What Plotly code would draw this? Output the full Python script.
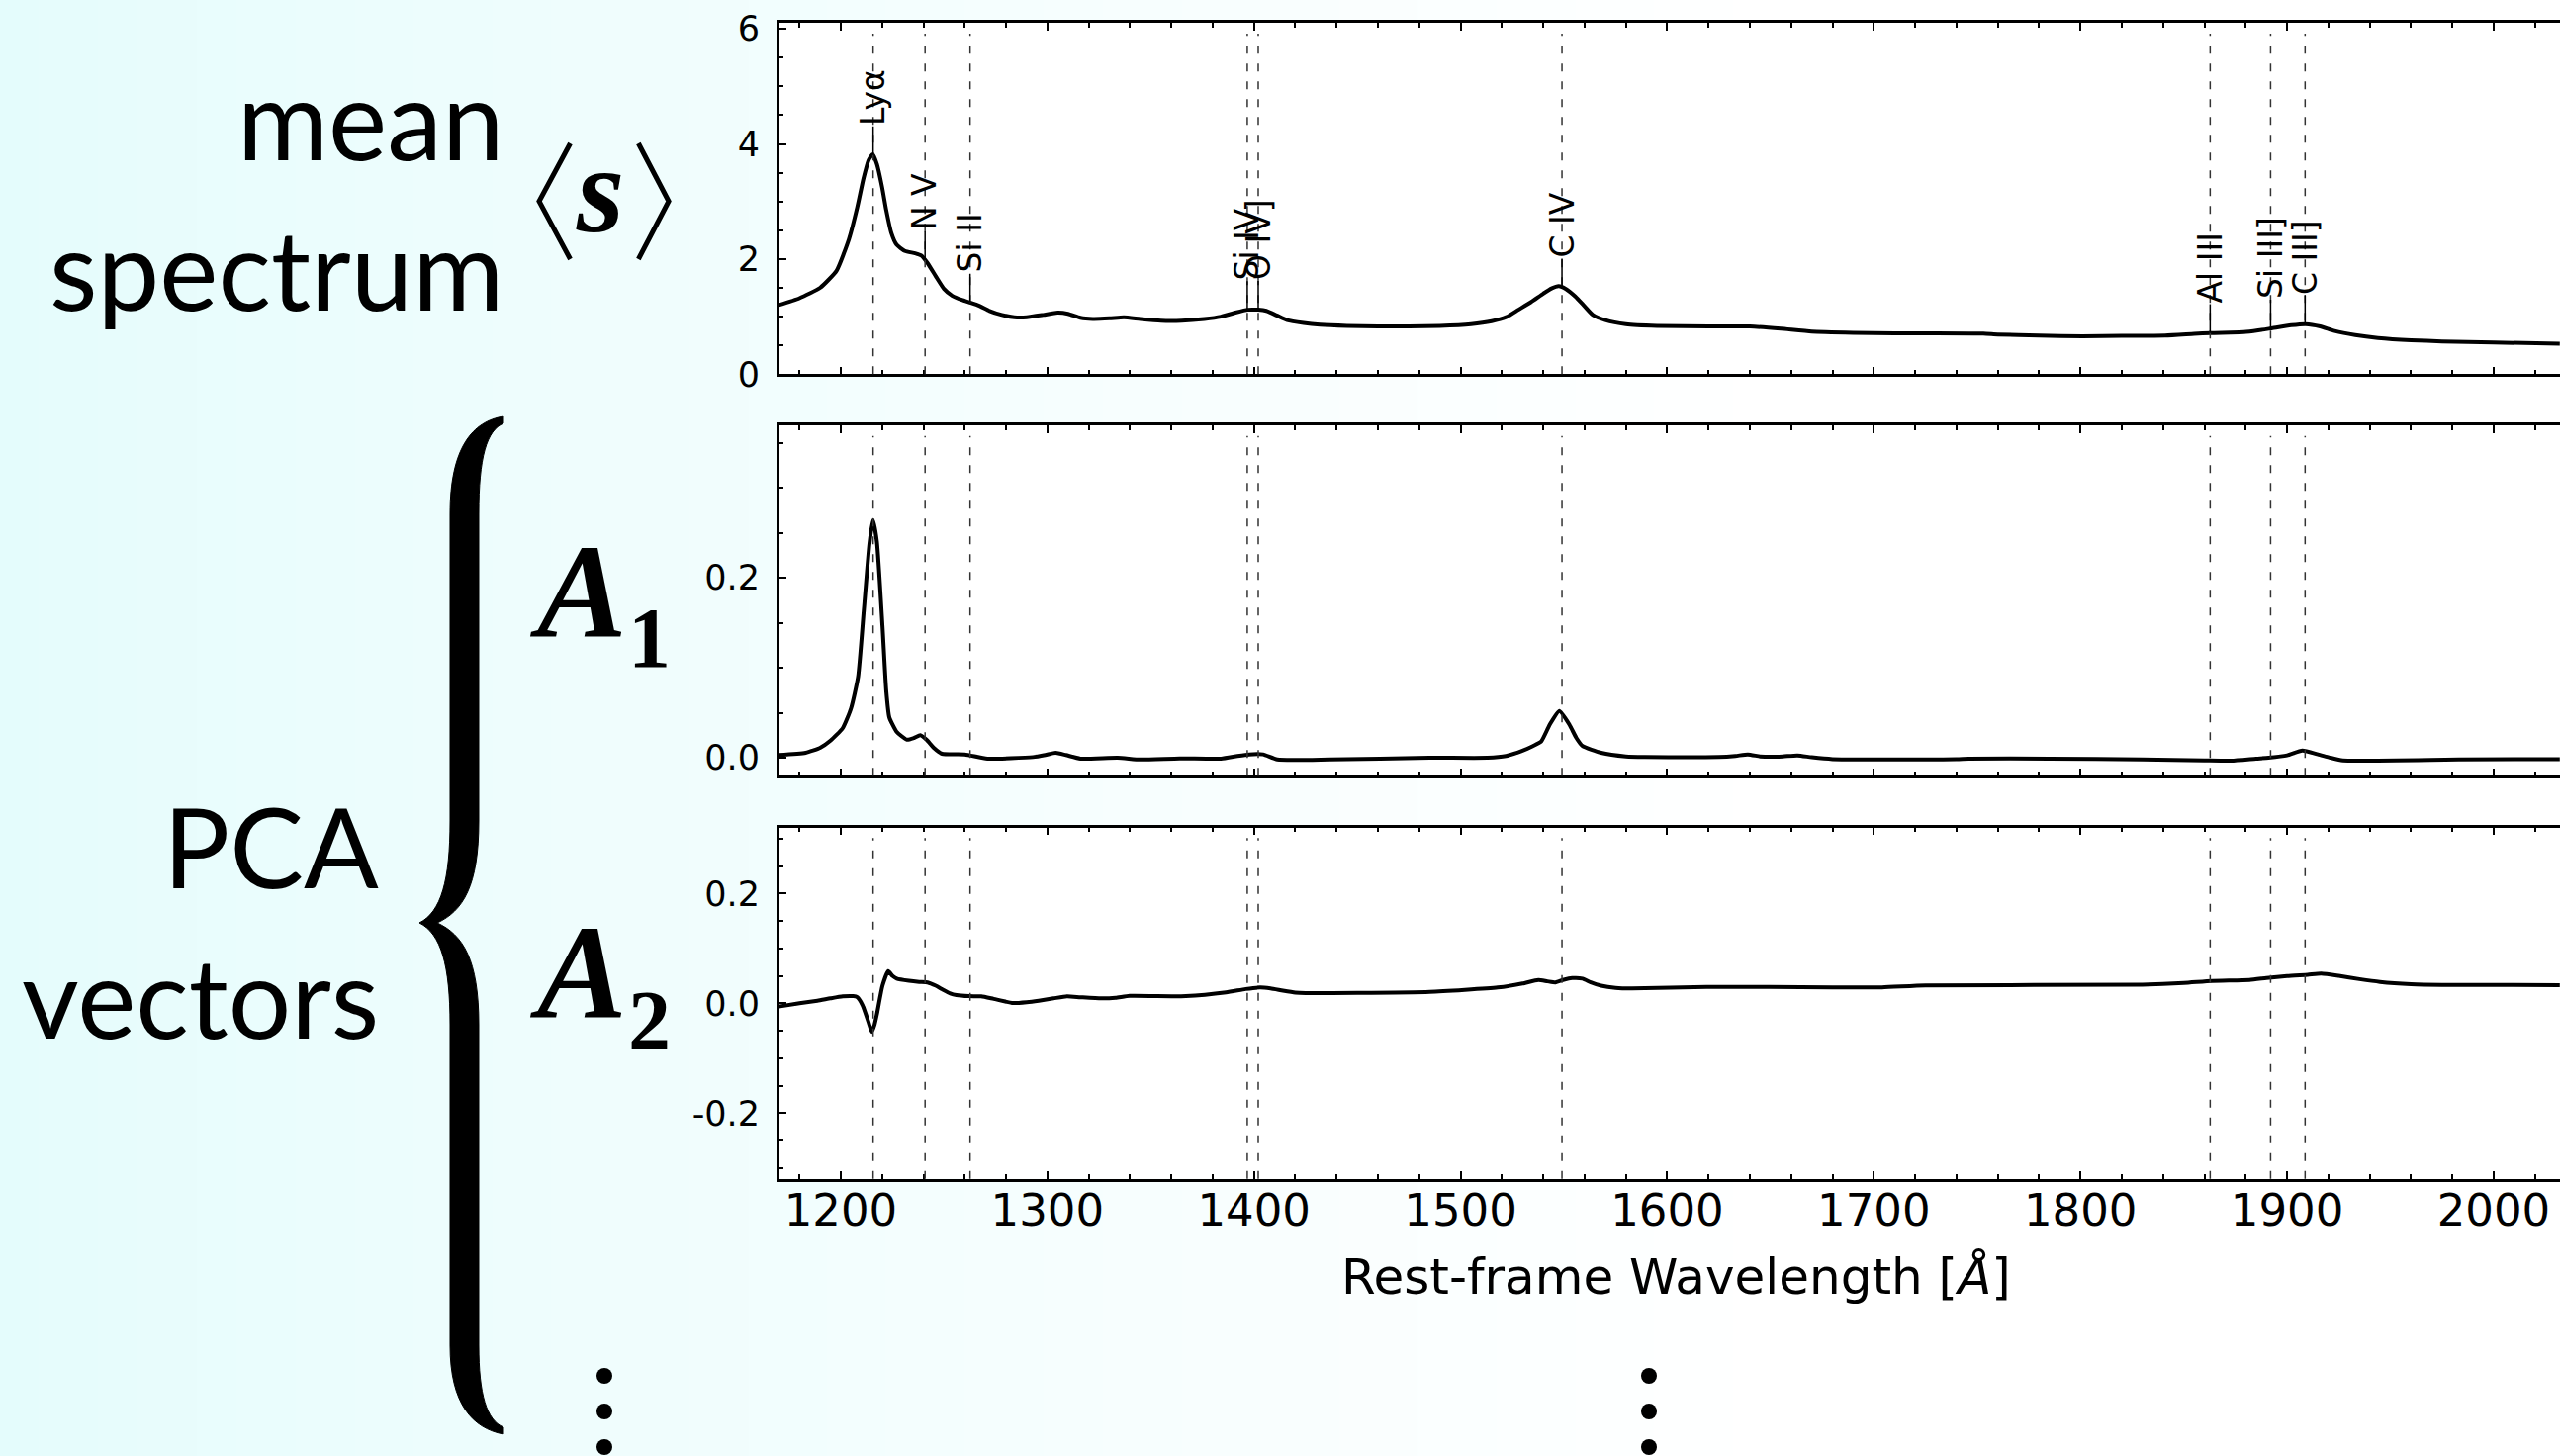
import numpy as np
import plotly.graph_objects as go

W, H = 2588, 1472

# ---------------- data ----------------
wave_mean = [1170, 1180, 1190, 1198, 1204, 1208, 1211, 1213.5, 1215.5, 1217.5, 1220, 1222, 1224.5,
             1227, 1231, 1236, 1239, 1242, 1246, 1250, 1254, 1258.6, 1263, 1267, 1272, 1278, 1284,
             1290, 1298, 1305, 1310, 1316, 1322, 1330, 1337, 1345, 1355, 1365, 1376, 1384, 1391,
             1397, 1402, 1406, 1411, 1416, 1424, 1432, 1445, 1460, 1475, 1490, 1505, 1515, 1522,
             1528, 1534, 1540, 1544, 1547.5, 1551, 1555.5, 1560, 1564, 1570, 1580, 1595, 1620,
             1640, 1655, 1670, 1690, 1710, 1730, 1753, 1760, 1780, 1801, 1820, 1841, 1855, 1863,
             1879, 1886, 1893, 1902, 1909, 1916, 1923, 1933, 1944, 1960, 1975, 2000, 2032]
flux_mean = [1.20, 1.32, 1.50, 1.80, 2.35, 2.90, 3.40, 3.72, 3.82, 3.65, 3.25, 2.85, 2.45,
             2.25, 2.14, 2.10, 2.06, 1.93, 1.70, 1.48, 1.36, 1.29, 1.24, 1.19, 1.10, 1.03, 0.99,
             0.99, 1.03, 1.07, 1.05, 0.98, 0.96, 0.97, 0.99, 0.96, 0.93, 0.93, 0.96, 1.00, 1.07,
             1.12, 1.12, 1.10, 1.02, 0.94, 0.89, 0.86, 0.84, 0.83, 0.83, 0.84, 0.87, 0.92, 0.99,
             1.12, 1.25, 1.40, 1.49, 1.53, 1.48, 1.35, 1.18, 1.03, 0.94, 0.87, 0.84, 0.83,
             0.83, 0.79, 0.74, 0.72, 0.71, 0.71, 0.705, 0.69, 0.67, 0.66, 0.665, 0.67, 0.70, 0.715,
             0.73, 0.76, 0.80, 0.85, 0.87, 0.83, 0.75, 0.68, 0.63, 0.59, 0.57, 0.55, 0.53]

wave_a1 = [1170, 1183, 1190, 1195, 1201, 1205, 1208.4, 1211.2, 1213.9, 1215.6, 1217.5, 1220.2, 1222,
           1223.5, 1227, 1232, 1235.5, 1238.5, 1241.5, 1245, 1249, 1260, 1271, 1293, 1299, 1304,
           1309, 1316, 1334, 1345, 1364, 1384, 1392, 1397.6, 1404.4, 1411.3, 1437, 1485, 1513,
           1522, 1529.4, 1535, 1539, 1543.1, 1547.8, 1552.7, 1556, 1559, 1568, 1580, 1589, 1625,
           1633, 1639, 1645, 1650, 1656, 1663, 1670, 1680, 1740, 1746, 1785, 1830, 1860, 1873,
           1885, 1891, 1900, 1907.4, 1915, 1921, 1927, 1983, 2032]
a1 = [0.003, 0.0055, 0.011, 0.019, 0.033, 0.055, 0.09, 0.165, 0.238, 0.264, 0.24, 0.146, 0.075,
      0.045, 0.029, 0.020, 0.022, 0.025, 0.020, 0.011, 0.0044, 0.0037, -0.001, 0.0007, 0.003, 0.0055,
      0.003, -0.001, 0.000, -0.002, -0.0007, -0.001, 0.002, 0.0037, 0.0037, -0.002, -0.002, 0.000, 0.000,
      0.002, 0.0073, 0.013, 0.018, 0.0366, 0.052, 0.0366, 0.022, 0.013, 0.0055, 0.0015, 0.0008, 0.0008,
      0.002, 0.0037, 0.0015, 0.001, 0.0015, 0.0026, 0.0005, -0.0015, -0.0015, -0.001, -0.001, -0.002,
      -0.003, -0.0033, -0.001, 0.000, 0.0026, 0.008, 0.0037, 0.000, -0.003, -0.002, -0.0015]

wave_a2 = [1170, 1180, 1188.7, 1195, 1201, 1206, 1208, 1210.6, 1213.4, 1215, 1216.3, 1217.5, 1220.2,
           1223, 1225, 1227.1, 1233, 1238, 1242, 1246, 1249, 1253, 1256, 1262, 1268, 1274, 1283.4,
           1290, 1295.8, 1303, 1309.5, 1316, 1326, 1333, 1339.8, 1367, 1386.5, 1396, 1403, 1408,
           1414, 1420, 1425, 1450, 1485, 1518, 1530, 1537.6, 1542, 1545.9, 1550, 1554, 1559, 1563,
           1568, 1575, 1583, 1619, 1680, 1704, 1725, 1830, 1850, 1863.7, 1881.8, 1890, 1900, 1910,
           1916.5, 1925, 1935, 1945, 1960, 1975, 2032]
a2 = [-0.006, 0.000, 0.0047, 0.009, 0.0126, 0.013, 0.011, -0.004, -0.034, -0.052, -0.040, -0.020, 0.032,
      0.0587, 0.050, 0.045, 0.041, 0.039, 0.038, 0.032, 0.0258, 0.018, 0.015, 0.013, 0.0126, 0.008, 0.0005,
      0.002, 0.0047, 0.009, 0.0126, 0.011, 0.009, 0.010, 0.0137, 0.013, 0.0198, 0.026, 0.0288, 0.027,
      0.023, 0.0195, 0.0186, 0.019, 0.021, 0.0288, 0.036, 0.0426, 0.040, 0.038, 0.043, 0.046, 0.045, 0.038,
      0.032, 0.028, 0.027, 0.030, 0.029, 0.029, 0.0325, 0.034, 0.037, 0.0408, 0.0426, 0.046, 0.0497, 0.052,
      0.054, 0.050, 0.044, 0.039, 0.035, 0.0336, 0.033]

line_names = ["Lyα", "N V", "Si II", "Si IV", "O IV]", "C IV", "Al III", "Si III]", "C III]"]
line_waves = [1215.67, 1240.81, 1262.59, 1396.76, 1402.06, 1549.06, 1862.79, 1892.03, 1908.73]
label_offset = 0.5

x_tick_vals = [1200, 1300, 1400, 1500, 1600, 1700, 1800, 1900, 2000]
x_tick_text = ["1200", "1300", "1400", "1500", "1600", "1700", "1800", "1900", "2000"]
y1_tick_vals = [0, 2, 4, 6]
y1_tick_text = ["0", "2", "4", "6"]
y2_tick_vals = [0.0, 0.2]
y2_tick_text = ["0.0", "0.2"]
y3_tick_vals = [-0.2, 0.0, 0.2]
y3_tick_text = ["-0.2", "0.0", "0.2"]

x_title = "Rest-frame Wavelength [<i>Å</i>]"

# ---------------- layout helpers ----------------
def px(x):
    return x / W


def py(y):
    return 1 - y / H


X_DOM = [px(787.7), 1.0]
Y1_DOM = [py(378.3), py(23.3)]
Y2_DOM = [py(784.3), py(430.0)]
Y3_DOM = [py(1191.7), py(836.7)]
X_RANGE = [1170.2, 2032.1]

fig = go.Figure()
panels = [("x", "y", wave_mean, flux_mean), ("x2", "y2", wave_a1, a1), ("x3", "y3", wave_a2, a2)]
for xa, ya, xs, ys in panels:
    fig.add_trace(go.Scatter(x=xs, y=ys, xaxis=xa, yaxis=ya, mode="lines",
                             line=dict(color="black", width=4, shape="spline", smoothing=0.5),
                             hoverinfo="skip", showlegend=False))

shapes = []
# background gradient
n = 130
for i in range(n):
    x0 = i * W / n
    x1 = (i + 1) * W / n
    f = min(1.0, ((x0 + x1) / 2) / 1800.0) ** 0.8
    r = int(round(228 + (255 - 228) * f))
    g = int(round(252 + (255 - 252) * f))
    shapes.append(dict(type="rect", xref="paper", yref="paper", x0=px(x0), x1=px(x1) + 0.0004,
                       y0=0, y1=1, fillcolor=f"rgb({r},{g},{g})", line=dict(width=0), layer="below"))
for dom in (Y1_DOM, Y2_DOM, Y3_DOM):
    shapes.append(dict(type="rect", xref="paper", yref="paper", x0=X_DOM[0], x1=1.0,
                       y0=dom[0], y1=dom[1], fillcolor="white", line=dict(width=0), layer="below"))

# dashed line markers
for xa, ya in (("x", "y"), ("x2", "y2"), ("x3", "y3")):
    for w in line_waves:
        shapes.append(dict(type="line", xref=xa, yref=f"{ya} domain", x0=w, x1=w, y0=0, y1=0.97,
                           line=dict(color="#333333", width=1.5, dash="8px,10px")))

annotations = []
line_flux = [float(np.interp(w, wave_mean, flux_mean)) for w in line_waves]
for name, w, fl in zip(line_names, line_waves, line_flux):
    shapes.append(dict(type="line", xref="x", yref="y", x0=w, x1=w, y0=fl, y1=fl + label_offset,
                       line=dict(color="black", width=1.5)))
    annotations.append(dict(x=w, y=fl + label_offset, xref="x", yref="y", text=name, textangle=-90,
                            showarrow=False, xanchor="center", yanchor="bottom",
                            font=dict(family="DejaVu Sans", size=33, color="black"), borderpad=0))


def path_px(cmds):
    out = []
    for c in cmds:
        if isinstance(c, str):
            out.append(c)
        else:
            out.append(f"{px(c[0]):.5f},{py(c[1]):.5f}")
    return " ".join(out)


# big curly brace
brace = path_px([
    "M", (509, 421),
    "C", (478, 426), (455, 452), (455, 520),
    "L", (455, 830),
    "C", (455, 890), (446, 922), (424, 933),
    "C", (446, 944), (455, 976), (455, 1036),
    "L", (455, 1360),
    "C", (455, 1420), (478, 1444), (509, 1450),
    "L", (509, 1443),
    "C", (492, 1436), (484, 1410), (484, 1360),
    "L", (484, 1036),
    "C", (484, 970), (468, 945), (442, 933),
    "C", (468, 921), (484, 896), (484, 830),
    "L", (484, 520),
    "C", (484, 462), (492, 435), (509, 428),
    "Z"])
shapes.append(dict(type="path", xref="paper", yref="paper", path=brace, fillcolor="black",
                   line=dict(color="black", width=1)))

# angle brackets around s
for pts in (((576.5, 145), (545, 203.5), (576.5, 262)), ((645.4, 145), (676, 203.5), (645.4, 262))):
    shapes.append(dict(type="path", xref="paper", yref="paper",
                       path=path_px(["M", pts[0], "L", pts[1], "L", pts[2]]),
                       line=dict(color="black", width=5)))

# vertical ellipsis dots
for cx in (611, 1667):
    for cy in (1391, 1427, 1463):
        r = 8
        shapes.append(dict(type="circle", xref="paper", yref="paper", x0=px(cx - r), x1=px(cx + r),
                           y0=py(cy + r), y1=py(cy - r), fillcolor="black", line=dict(width=0)))

left_font = dict(family="Lato", size=112, color="black")
for txt, xr, yc in (("mean", 511, 119), ("spectrum", 511, 270), ("PCA", 385, 854), ("vectors", 385, 1006)):
    annotations.append(dict(x=px(xr), y=py(yc), xref="paper", yref="paper", text=txt, showarrow=False,
                            xanchor="right", yanchor="middle", font=left_font))

SERIF = "Liberation Serif"
annotations.append(dict(x=px(606), y=py(192), xref="paper", yref="paper", text="s",
                        showarrow=False, xanchor="center", yanchor="middle",
                        font=dict(family=SERIF, size=124, color="black", weight="bold", style="italic")))
for (ax_, ay_), (sx, sy), sub in (((584, 598), (657, 645), "1"), ((584, 983), (657, 1032), "2")):
    annotations.append(dict(x=px(ax_), y=py(ay_), xref="paper", yref="paper", text="A",
                            showarrow=False, xanchor="center", yanchor="middle",
                            font=dict(family=SERIF, size=136, color="black", weight="bold", style="italic")))
    annotations.append(dict(x=px(sx), y=py(sy), xref="paper", yref="paper", text=sub,
                            showarrow=False, xanchor="center", yanchor="middle",
                            font=dict(family=SERIF, size=86, color="black", weight="bold")))

annotations.append(dict(x=px(1694), y=py(1291), xref="paper", yref="paper", text=x_title,
                        showarrow=False, xanchor="center", yanchor="middle",
                        font=dict(family="DejaVu Sans", size=50, color="black")))

common_x = dict(range=X_RANGE, domain=X_DOM, showline=True, linecolor="black", linewidth=2.5,
                mirror="allticks", ticks="inside", ticklen=8, tickwidth=2, tickcolor="black",
                tickmode="array", tickvals=x_tick_vals, ticktext=x_tick_text,
                minor=dict(ticks="inside", ticklen=5, tickwidth=1.5, tickcolor="black",
                           tickmode="linear", tick0=1200, dtick=20),
                showgrid=False, zeroline=False, fixedrange=True, automargin=False,
                tickfont=dict(family="DejaVu Sans", size=45, color="black"), ticklabelstandoff=-9)


def yax(dom, rng, tv, tt, mdt):
    return dict(domain=dom, range=rng, showline=True, linecolor="black", linewidth=2.5, mirror=False,
                ticks="inside", ticklen=8, tickwidth=2, tickcolor="black", tickmode="array",
                tickvals=tv, ticktext=tt,
                minor=dict(ticks="inside", ticklen=5, tickwidth=1.5, tickcolor="black",
                           tickmode="linear", tick0=0, dtick=mdt),
                showgrid=False, zeroline=False, fixedrange=True, automargin=False,
                tickfont=dict(family="DejaVu Sans", size=35, color="black"), ticklabelstandoff=10)


fig.update_layout(
    width=W, height=H, autosize=False,
    margin=dict(l=0, r=0, t=0, b=0, pad=0, autoexpand=False),
    paper_bgcolor="white", plot_bgcolor="rgba(0,0,0,0)",
    showlegend=False,
    xaxis=dict(common_x, anchor="y", showticklabels=False),
    xaxis2=dict(common_x, anchor="y2", showticklabels=False),
    xaxis3=dict(common_x, anchor="y3", showticklabels=True),
    yaxis=yax(Y1_DOM, [0, 6.1], y1_tick_vals, y1_tick_text, 0.5) | dict(anchor="x"),
    yaxis2=yax(Y2_DOM, [-0.0201, 0.3694], y2_tick_vals, y2_tick_text, 0.05) | dict(anchor="x2"),
    yaxis3=yax(Y3_DOM, [-0.3196, 0.320], y3_tick_vals, y3_tick_text, 0.05) | dict(anchor="x3"),
    shapes=shapes,
    annotations=annotations,
)

fig.write_html("out.html")
